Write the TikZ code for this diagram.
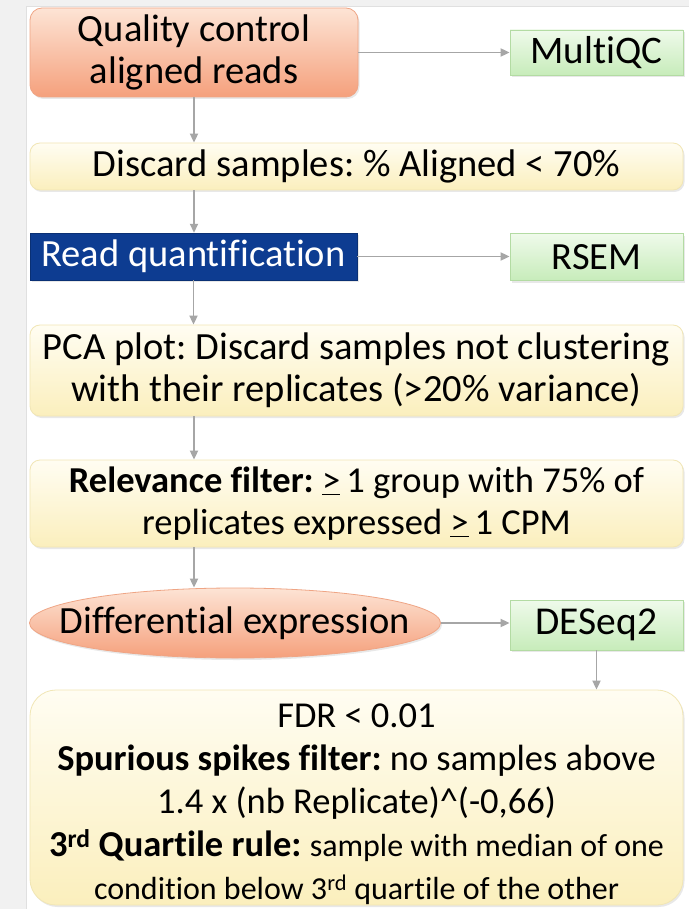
\documentclass[tikz,border=0pt]{standalone}
\usepackage{fontspec}
\setmainfont[Ligatures={NoCommon}]{Carlito}
\usetikzlibrary{arrows.meta,shapes.geometric,shadows}
\definecolor{peachT}{HTML}{FDE4D5}
\definecolor{peachB}{HTML}{F5A07C}
\definecolor{peachD}{HTML}{EFA585}
\definecolor{yelT}{HTML}{FFFDF2}
\definecolor{yelB}{HTML}{FBEFBD}
\definecolor{yelD}{HTML}{F1E6B5}
\definecolor{grnT}{HTML}{EFFAEB}
\definecolor{grnB}{HTML}{C7ECBA}
\definecolor{grnD}{HTML}{B3DBA3}
\definecolor{blueF}{HTML}{0D3C91}
\definecolor{arr}{HTML}{A6A6A6}
\definecolor{bgGray}{HTML}{F1F1F1}
\tikzset{
  base/.style={inner sep=0pt, align=center, font=\fontsize{38.5}{42}\selectfont, text=black,
     drop shadow={opacity=0.18, shadow xshift=1.5pt, shadow yshift=-2pt}},
  peachbox/.style={base, rectangle, rounded corners=12pt, top color=peachT, bottom color=peachB, draw=peachD, line width=0.8pt},
  yelbox/.style={base, rectangle, rounded corners=10pt, top color=yelT, bottom color=yelB, draw=yelD, line width=0.8pt},
  grnbox/.style={base, rectangle, top color=grnT, bottom color=grnB, draw=grnD, line width=0.8pt, font=\fontsize{39}{42}\selectfont},
  bluebox/.style={base, rectangle, fill=blueF, draw=blueF!80!black, text=white},
  peachell/.style={base, ellipse, top color=peachT, bottom color=peachB, draw=peachD, line width=0.8pt},
  txt/.style={inner sep=0pt, align=center, text=black},
  conn/.style={draw=arr, line width=1.8pt, -{Triangle[length=9pt,width=8pt]}}
}
\begin{document}
\frenchspacing
\begin{tikzpicture}[x=1pt,y=-1pt]
\useasboundingbox (0,0) rectangle (689,909);
\fill[bgGray] (0,0) rectangle (689,909);
\fill[white] (26,6) rectangle (689,909);
\draw[black!12, line width=0.6pt] (26,909) -- (26,6) -- (689,6);

\node[peachbox, minimum width=328pt, minimum height=89pt] (qc) at (194,52.5) {Quality control\\aligned reads};
\node[grnbox, minimum width=173pt, minimum height=45pt] (mqc) at (596.5,52.5) {MultiQC};
\node[yelbox, minimum width=653pt, minimum height=47pt] (disc) at (356.5,166.5) {Discard samples: \% Aligned < 70\%};
\node[bluebox, minimum width=327pt, minimum height=47pt] (rq) at (193.5,256.5) {Read quantification};
\node[grnbox, minimum width=173pt, minimum height=47pt, font=\fontsize{38.5}{42}\selectfont] (rsem) at (596.5,257) {RSEM};
\node[yelbox, minimum width=653pt, minimum height=91pt] (pca) at (356.5,370.5) {PCA plot: Discard samples not clustering\\with their replicates (>20\% variance)};
\node[yelbox, minimum width=653pt, minimum height=87pt, font=\fontsize{36.5}{42}\selectfont] (rel) at (356.5,503.5) {\textbf{Relevance filter:} \underline{>}\,1 group with 75\% of\\replicates expressed \underline{>}\,1 CPM};
\node[peachell, minimum width=411pt, minimum height=70pt] (de) at (235,623) {};
\node[txt, font=\fontsize{38.5}{42}\selectfont] (detxt) at (de.center) {Differential expression};
\node[grnbox, minimum width=173pt, minimum height=50pt, font=\fontsize{39.5}{42}\selectfont] (deseq) at (596.5,625) {DESeq2};
\node[yelbox, rounded corners=26pt, minimum width=653pt, minimum height=215pt] (fin) at (356.5,797.5) {};
\node[txt, font=\fontsize{36.5}{43}\selectfont] (fintxt) at (356.5,804)
  {FDR < 0.01\\
   \textbf{Spurious spikes filter:} no samples above\\
   1.4 x (nb Replicate)\^{}(-0,66)\\
   \textbf{3\textsuperscript{rd} Quartile rule:} {\fontsize{32}{36}\selectfont sample with median of one}\\
   {\fontsize{32}{36}\selectfont condition below 3\textsuperscript{rd} quartile of the other}};

\draw[conn] (qc.east) -- (mqc.west);
\draw[conn] (qc.south) -- (qc.south |- disc.north);
\draw[conn] (qc.south |- disc.south) -- (qc.south |- rq.north);
\draw[conn] (rq.east) -- (rq.east -| rsem.west);
\draw[conn] (rq.south) -- (rq.south |- pca.north);
\draw[conn] (qc.south |- pca.south) -- (qc.south |- rel.north);
\draw[conn] (qc.south |- rel.south) -- (qc.south |- de.north);
\draw[conn] (de.east) -- (de.east -| deseq.west);
\draw[conn] (deseq.south) -- (deseq.south |- fin.north);
\end{tikzpicture}
\end{document}
